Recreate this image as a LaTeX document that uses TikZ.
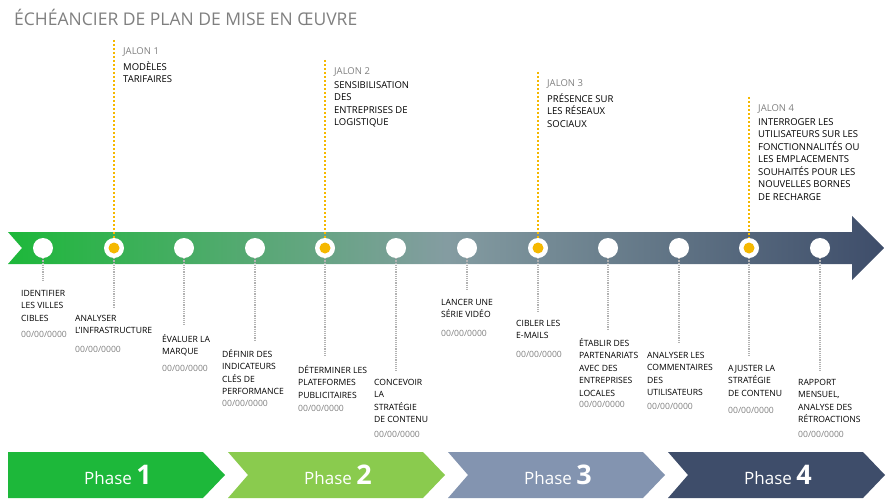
\documentclass[tikz,border=0pt]{standalone}
\usepackage{fontspec}
\setmainfont{Open Sans}
\usetikzlibrary{positioning, calc}
\definecolor{phaseone}{HTML}{1DB83A}
\definecolor{phasetwo}{HTML}{8ACB4E}
\definecolor{phasethree}{HTML}{8394B0}
\definecolor{phasefour}{HTML}{3E4D6A}
\definecolor{jalonorange}{HTML}{F5B800}
\definecolor{txtgray}{HTML}{7F7F7F}

\begin{document}
\begin{tikzpicture}[x=1pt, y=-1pt,
  dot/.style={circle, fill=white, minimum size=20pt, inner sep=0pt},
  jdot/.style={circle, fill=jalonorange, minimum size=11pt, inner sep=0pt},
  task/.style={anchor=north west, align=left, inner sep=0pt, font=\fontsize{8.6}{12.5}\selectfont},
  date/.style={anchor=north west, inner sep=0pt, font=\fontsize{8.6}{10}\selectfont, text=txtgray},
  jalon/.style={anchor=north west, inner sep=0pt, font=\fontsize{9.5}{11}\selectfont, text=txtgray},
  jtext/.style={anchor=north west, align=left, inner sep=0pt, font=\fontsize{9.5}{12.5}\selectfont},
  conn/.style={draw=gray!60, densely dotted, line width=1.2pt},
  jconn/.style={draw=jalonorange, dotted, line width=2pt},
  phase/.style={text=white, font=\fontsize{17}{19}\selectfont},
]
  \useasboundingbox (0,0) rectangle (890,500);

  % title
  \node[anchor=west, inner sep=0pt, text=txtgray, font=\fontsize{17.5}{20}\selectfont] (title) at (14,17) {ÉCHÉANCIER DE PLAN DE MISE EN ŒUVRE};

  % timeline arrow
  \shade[left color=phaseone, right color=phasefour, middle color=phasethree!85!phasetwo]
    (8,232) -- (852,232) -- (852,216) -- (884,248) -- (852,280) -- (852,264) -- (8,264) -- (22,248) -- cycle;

  % jalons
  \foreach \x/\ytop/\n/\txt in {114/40/1/{MODÈLES\\TARIFAIRES},
                               325/60/2/{SENSIBILISATION\\DES\\ENTREPRISES DE\\LOGISTIQUE},
                               538/72/3/{PRÉSENCE SUR\\LES RÉSEAUX\\SOCIAUX},
                               749/97/4/{INTERROGER LES\\UTILISATEURS SUR LES\\FONCTIONNALITÉS OU\\LES EMPLACEMENTS\\SOUHAITÉS POUR LES\\NOUVELLES BORNES\\DE RECHARGE}} {
    \coordinate (jtop\n) at (\x,\ytop);
    \node[jalon] (jlabel\n) at (\x+9,\ytop+7) {JALON \n};
    \node[jtext, below=5pt of jlabel\n.south west, anchor=north west] (jtxt\n) {\txt};
  }

  % tasks
  \foreach \i/\x/\tx/\ty/\dy/\txt in {
      1/43/21/290/331/{IDENTIFIER\\LES VILLES\\CIBLES},
      2/114/75/315/346/{ANALYSER\\L'INFRASTRUCTURE},
      3/184/162/334/365/{ÉVALUER LA\\MARQUE},
      4/255/222/349/400/{DÉFINIR DES\\INDICATEURS\\CLÉS DE\\PERFORMANCE},
      5/325/298/365/405/{DÉTERMINER LES\\PLATEFORMES\\PUBLICITAIRES},
      6/396/374/379/431/{CONCEVOIR\\LA\\STRATÉGIE\\DE CONTENU},
      7/467/441/299/330/{LANCER UNE\\SÉRIE VIDÉO},
      8/538/516/320/351/{CIBLER LES\\E-MAILS},
      9/608/579/338/401/{ÉTABLIR DES\\PARTENARIATS\\AVEC DES\\ENTREPRISES\\LOCALES},
      10/679/647/352/403/{ANALYSER LES\\COMMENTAIRES\\DES\\UTILISATEURS},
      11/749/728/365/407/{AJUSTER LA\\STRATÉGIE\\DE CONTENU},
      12/820/798/379/431/{RAPPORT\\MENSUEL,\\ANALYSE DES\\RÉTROACTIONS}} {
    \node[dot] (d\i) at (\x,248) {};
    \node[task] (t\i) at (\tx,\ty) {\txt};
    \node[date] (dt\i) at (\tx,\dy) {00/00/0000};
    \coordinate (tend\i) at (\x,\ty-8);
    \draw[conn] (d\i.south) -- (tend\i);
  }

  % jalon markers
  \foreach \n/\i in {1/2, 2/5, 3/8, 4/11} {
    \draw[jconn] (jtop\n) -- (d\i.north);
    \node[jdot] (jd\n) at (d\i) {};
  }

  % phases
  \foreach \n/\x/\col in {1/8/phaseone, 2/228/phasetwo, 3/448/phasethree, 4/668/phasefour} {
    \ifnum\n=1
      \fill[\col] (\x,452) -- (\x+195,452) -- (\x+217,475) -- (\x+195,498) -- (\x,498) -- cycle;
    \else
      \fill[\col] (\x,452) -- (\x+195,452) -- (\x+217,475) -- (\x+195,498) -- (\x,498) -- (\x+20,475) -- cycle;
    \fi
    \node[phase] (ph\n) at (\x+110,475) {Phase {\fontsize{27}{29}\selectfont\bfseries\n}};
  }
\end{tikzpicture}
\end{document}
